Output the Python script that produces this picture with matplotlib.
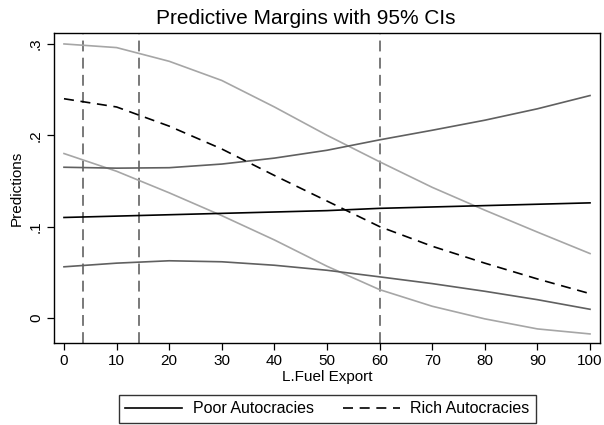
import numpy as np
import matplotlib
matplotlib.use('Agg')
import matplotlib.pyplot as plt

plt.rcParams['font.family'] = ['Liberation Sans', 'DejaVu Sans']

# values at L.Fuel Export = 0, 10, ..., 100
fuel = [0, 10, 20, 30, 40, 50, 60, 70, 80, 90, 100]
poor = [0.110, 0.1115, 0.113, 0.1145, 0.116, 0.1175, 0.120, 0.1215, 0.123, 0.1245, 0.126]
poor_hi = [0.165, 0.164, 0.1645, 0.1685, 0.175, 0.1836, 0.195, 0.2055, 0.2165, 0.229, 0.2435]
poor_lo = [0.056, 0.060, 0.0626, 0.0615, 0.0577, 0.0522, 0.045, 0.0376, 0.0292, 0.020, 0.0095]
rich = [0.240, 0.231, 0.210, 0.185, 0.156, 0.128, 0.100, 0.0785, 0.060, 0.0427, 0.0266]
rich_hi = [0.300, 0.296, 0.281, 0.260, 0.231, 0.200, 0.171, 0.143, 0.118, 0.094, 0.0705]
rich_lo = [0.180, 0.1606, 0.137, 0.112, 0.0854, 0.0566, 0.031, 0.0128, -0.001, -0.012, -0.0175]
vlines = [3.7, 14.2, 60]
xticks = list(range(0, 101, 10))
yticks = [0, 0.1, 0.2, 0.3]
ytick_labels = ['0', '.1', '.2', '.3']

fig = plt.figure(figsize=(6.04, 4.25), dpi=100)
ax = fig.add_axes([0.0894, 0.193, 0.904, 0.7294])

for v in vlines:
    ax.axvline(v, color='#6e6e6e', lw=1.3, ls=(0, (6, 3.5)), zorder=1)

ax.plot(fuel, rich_hi, color='#a6a6a6', lw=1.2, zorder=2)
ax.plot(fuel, rich_lo, color='#a6a6a6', lw=1.2, zorder=2)
ax.plot(fuel, poor_hi, color='#606060', lw=1.2, zorder=3)
ax.plot(fuel, poor_lo, color='#606060', lw=1.2, zorder=3)
ax.plot(fuel, poor, color='black', lw=1.2, zorder=4, label='Poor Autocracies')
ax.plot(fuel, rich, color='black', lw=1.2, ls=(0, (6, 4)), zorder=4, label='Rich Autocracies')

ax.set_xlim(-1.9, 101.9)
ax.set_ylim(-0.0274, 0.312)
ax.set_xticks(xticks)
ax.set_yticks(yticks)
ax.set_yticklabels(ytick_labels, rotation=90, va='center')
ax.tick_params(axis='both', direction='out', length=5, width=0.9, labelsize=11, pad=3)
for s in ax.spines.values():
    s.set_linewidth(1.0)

# Stata centres the title on the whole graph
fig.text(0.507, 1 - 24 / 425, 'Predictive Margins with 95% CIs', fontsize=15,
         ha='center', va='baseline')
ax.set_xlabel('L.Fuel Export', fontsize=11, labelpad=1.5)
ax.set_ylabel('Predictions', fontsize=11, labelpad=4)

leg = fig.legend(loc='upper center', bbox_to_anchor=(0.542, 1 - 395 / 425), ncol=2,
                 fontsize=11.5, frameon=True, fancybox=False, edgecolor='black',
                 handlelength=3.6, handletextpad=0.65, columnspacing=1.8,
                 borderpad=0.4, borderaxespad=0)
leg.get_frame().set_linewidth(1.0)

fig.savefig('out.png', dpi=100, facecolor='white')
